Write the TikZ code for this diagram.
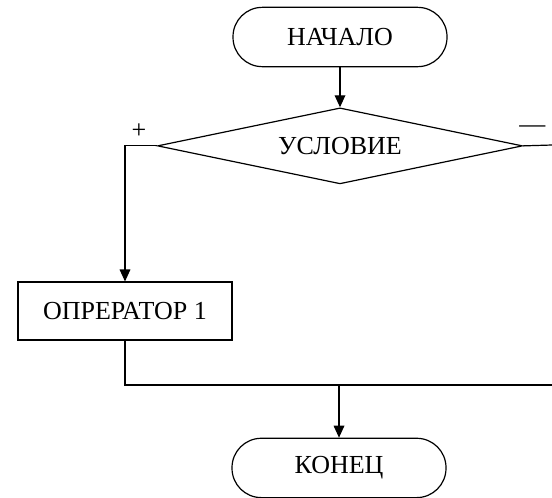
\documentclass[tikz,border=0pt]{standalone}
\usepackage{fontspec}
\setmainfont{Liberation Serif}
\usetikzlibrary{arrows.meta,shapes.geometric,positioning}

\begin{document}
\begin{tikzpicture}[->,>={Triangle[length=9pt,width=8pt]},line width=0.9pt,auto,node distance=30pt,
                    termnode/.style={rectangle, rounded corners=22pt, draw=black, fill=white, minimum width=160.5pt, minimum height=44.5pt},
                    condnode/.style={diamond, aspect=4.8, draw=black, fill=white, inner sep=0pt, minimum width=273.75pt, minimum height=57pt}]
      \tikzstyle{every node}=[font=\fontsize{19.5}{21}\selectfont, text=black]
      \tikzstyle{procnode}=[rectangle, draw=black, fill=white, minimum width=160.5pt, minimum height=43.5pt]
      \useasboundingbox (0,0) rectangle (414pt,-372.75pt);

      \node[termnode]  (begin) at (255pt,-27.75pt) {НАЧАЛО};
      \node[condnode]  (cond) [below=of begin] {УСЛОВИЕ};
      \node[procnode]  (op) [below=72.75pt of cond, xshift=-161.25pt] {ОПРЕРАТОР 1};
      \node[termnode]  (finish) [below=72.75pt of op, xshift=160.5pt] {КОНЕЦ};
      \node[draw=none, inner sep=0pt] (plus) at ([xshift=-13.5pt,yshift=11.25pt]cond.west) {+};
      \node[draw=none, inner sep=0pt] (minus) at ([xshift=7pt,yshift=12.75pt]cond.east) {---};

      \coordinate (rtop) at (414pt,-108.75pt);
      \coordinate (rbot) at (414pt,-288.75pt);
      \coordinate (join) at (finish.north |- rbot);

      \path (begin) edge (cond);
      \draw (cond.west) -| (op.north);
      \draw[-] (cond.east) -- (rtop);
      \draw[-] (op.south) |- (join);
      \draw[-] (rbot) -- (join);
      \draw (join) -- (finish.north);
\end{tikzpicture}
\end{document}
